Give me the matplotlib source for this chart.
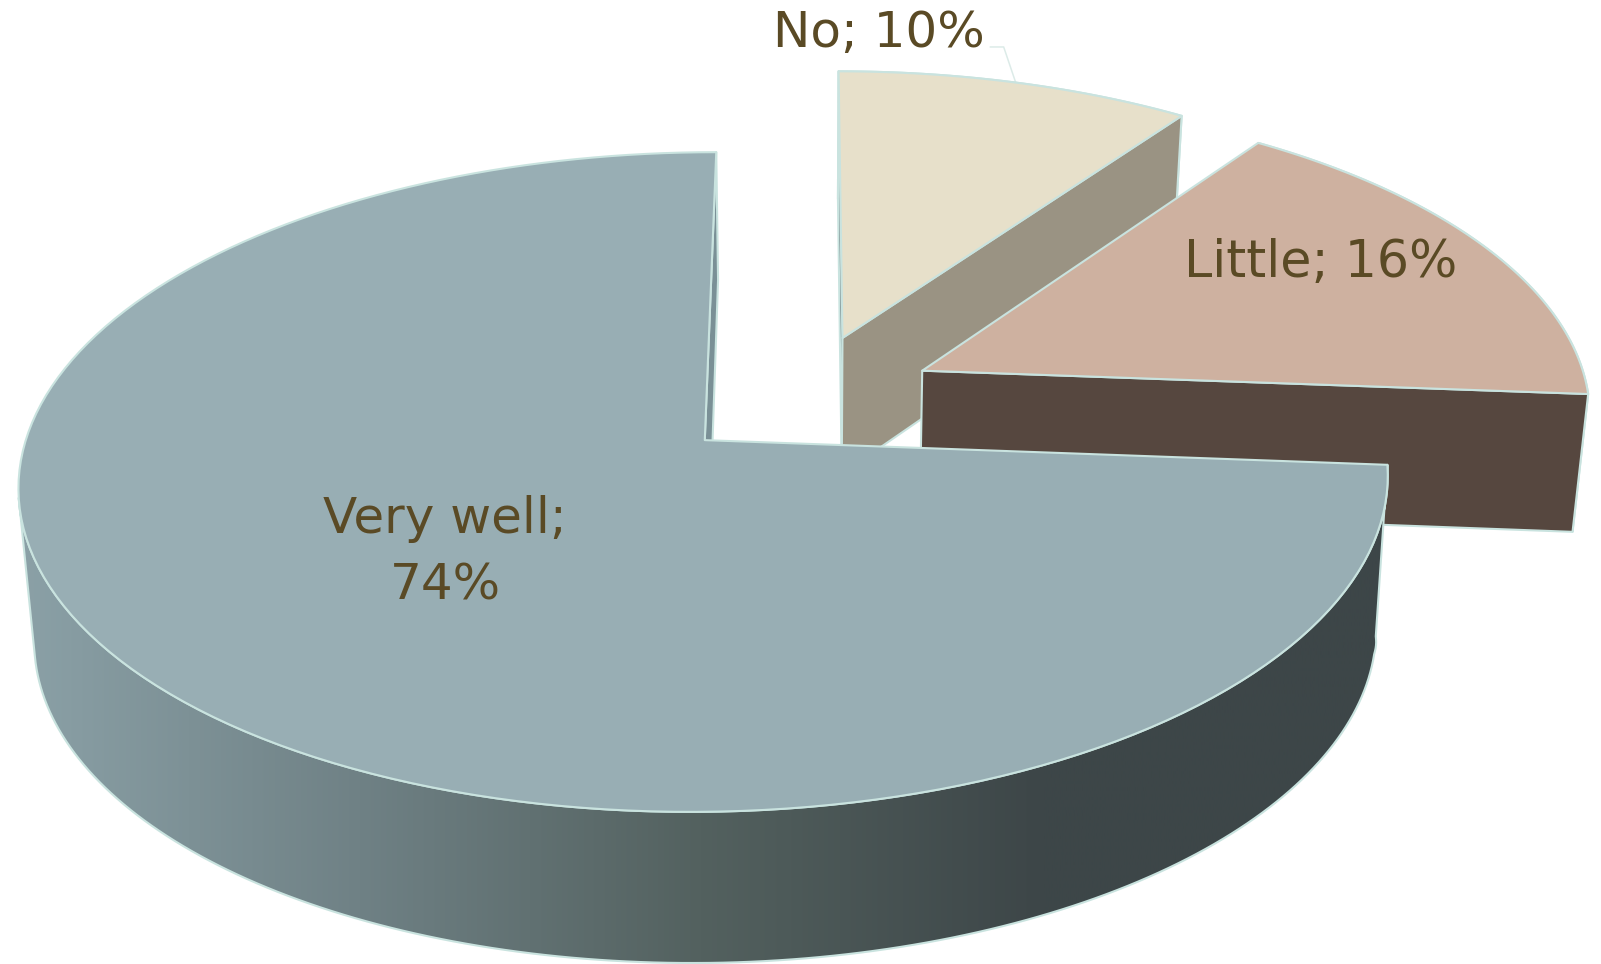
import numpy as np
import matplotlib
matplotlib.use("Agg")
from matplotlib import pyplot as plt
from matplotlib.colors import LinearSegmentedColormap
from matplotlib.patches import Polygon

categories = ["Very well", "Little", "No"]
values = [73.8, 16.4, 9.8]

top_colors = ["#98aeb4", "#ceb1a0", "#e7e0ca"]
side_colors = ["#7a9096", "#56473f", "#9a9383"]
edge_color = "#c9e3df"
text_color = "#5a4a25"

plt.rcParams["font.family"] = ["DejaVu Sans"]

W, H = 1568, 944
fig = plt.figure(figsize=(16.01, 9.64), dpi=100)
ax = fig.add_axes([0, 0, 1, 1])

# perspective of the tilted pie
VX, CY = 790, 431
RX, RY, K = 665, 317.8, 0.127
X0 = -0.15


def project(x, y, bottom=0):
    w = 1 + K * y
    sx = VX + RX * (x + X0) / w
    sy = CY - RY * y / w
    if bottom:
        sx = VX + (sx - VX) * 0.98
        if bottom == 1:
            sy = sy * 1.032 + 122.6
        else:
            # big slice, its lower rim is not a plain shift of the upper one
            sy = np.interp(sy, [149, 456, 490, 795], [274, 624, 640, 943])
    return np.column_stack([sx, sy])


def arc(a0, a1, off, bottom=0):
    t = np.radians(np.linspace(a0, a1, 160))
    return project(off[0] + np.cos(t), off[1] + np.sin(t), bottom)


def apex(off, bottom=0):
    return project(np.array([off[0]]), np.array([off[1]]), bottom)


def poly(pts, color, z):
    p = Polygon(pts, closed=True, fc=color, ec=edge_color, lw=1.5, joinstyle="round", zorder=z)
    ax.add_patch(p)
    return p


# slice angles, counter clockwise from 12 o'clock
starts = 90 + np.cumsum([0] + values[:-1]) * 3.6
ends = starts + np.array(values) * 3.6

# how far each slice is pulled out
offsets = [(0.0, 0.0), (0.325, 0.22), (0.205, 0.328)]

# back slice first
for i, z in [(2, 1), (1, 2), (0, 3)]:
    a0, a1, off = starts[i], ends[i], offsets[i]
    low = 2 if i == 0 else 1
    top_arc = arc(a0, a1, off)
    low_arc = arc(a0, a1, off, low)
    a_top, a_low = apex(off), apex(off, low)

    # outer wall
    if i == 0:
        # only the front part, from the left silhouette round to the cut
        wall = np.vstack([arc(190, a1, off), arc(190, a1, off, low)[::-1]])
        cmap = LinearSegmentedColormap.from_list(
            "wall", ["#8ba1a7", "#6f8185", "#53615f", "#3d4648", "#3d4648"])
        grad = np.linspace(0, 1, 512).reshape(1, -1)
        im = ax.imshow(grad, cmap=cmap, aspect="auto", extent=[18, 1355, 950, 140], zorder=z)
        clip = poly(wall, "none", z)
        im.set_clip_path(clip)
    else:
        poly(np.vstack([top_arc, low_arc[::-1]]), side_colors[i], z)

    # flat cut faces
    if i == 2:
        poly(np.vstack([a_top, top_arc[-1], low_arc[-1], a_low]), "#55686c", z)
    poly(np.vstack([a_top, top_arc[0], low_arc[0], a_low]), side_colors[i], z)

    poly(np.vstack([a_top, top_arc]), top_colors[i], z)

# labels
ax.text(861, 32, f"{categories[2]}; {values[2]:.0f}%", color=text_color, fontsize=36,
        ha="center", va="center", zorder=5)
ax.text(1293, 258, f"{categories[1]}; {values[1]:.0f}%", color=text_color, fontsize=36.5,
        ha="center", va="center", zorder=5)
ax.text(436, 541, f"{categories[0]};\n{values[0]:.0f}%", color=text_color, fontsize=36,
        ha="center", va="center", linespacing=1.5, zorder=5)

# leader line of the No label
mid = arc((starts[2] + ends[2]) / 2, (starts[2] + ends[2]) / 2, offsets[2])[0]
ax.plot([970, 983, mid[0]], [46, 46, mid[1]], color="#dcebe8", lw=1.1, zorder=0.5)

ax.set_xlim(0, W)
ax.set_ylim(H, 0)
ax.axis("off")
fig.savefig("out.png", dpi=100, facecolor="white")
